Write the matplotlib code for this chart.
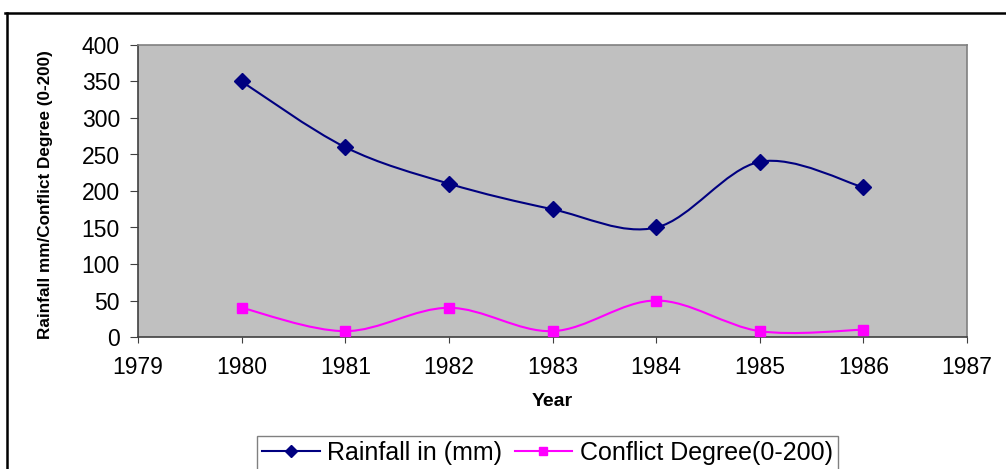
import numpy as np
import matplotlib
matplotlib.use("Agg")
import matplotlib.pyplot as plt
from matplotlib.path import Path
from matplotlib.patches import PathPatch
from matplotlib.lines import Line2D

# data
years = [1980, 1981, 1982, 1983, 1984, 1985, 1986]
rainfall = [350, 260, 210, 175, 150, 240, 205]
conflict = [40, 8, 40, 8, 50, 8, 10]
x_ticks = list(range(1979, 1988))
y_ticks = list(range(0, 401, 50))

plt.rcParams['font.family'] = ['Liberation Sans', 'DejaVu Sans']

W, H = 1006, 469


# smoothed line like excel (bezier through the points)
def smooth_path(x, y):
    pts = np.column_stack([x, y]).astype(float)
    n = len(pts)
    verts = [pts[0]]
    codes = [Path.MOVETO]
    for i in range(n - 1):
        p0 = pts[max(i - 1, 0)]
        p1 = pts[i]
        p2 = pts[i + 1]
        p3 = pts[min(i + 2, n - 1)]
        verts += [p1 + (p2 - p0) / 6, p2 - (p3 - p1) / 6, p2]
        codes += [Path.CURVE4] * 3
    return Path(verts, codes)


fig = plt.figure(figsize=(W / 100, H / 100), dpi=100)
ax = fig.add_axes([138 / W, 1 - 337 / H, (967 - 138) / W, (337 - 45) / H])
ax.set_facecolor('#C0C0C0')

navy = '#000080'
pink = '#FF00FF'

ax.add_patch(PathPatch(smooth_path(years, rainfall), fill=False, edgecolor=navy, lw=1.5, zorder=3))
ax.add_patch(PathPatch(smooth_path(years, conflict), fill=False, edgecolor=pink, lw=1.5, zorder=3))
ax.plot(years, rainfall, linestyle='none', marker='D', ms=8.5, color=navy, zorder=4)
ax.plot(years, conflict, linestyle='none', marker='s', ms=7.5, color=pink, zorder=4)

ax.set_xlim(1979, 1987)
ax.set_ylim(0, 400)
ax.set_xticks(x_ticks)
ax.set_yticks(y_ticks)
ax.tick_params(axis='both', labelsize=16.5, direction='out', color='#404040')
ax.tick_params(axis='x', length=4.5, pad=9)
ax.tick_params(axis='y', length=6, pad=7)

for s in ['left', 'bottom']:
    ax.spines[s].set_color('#404040')
    ax.spines[s].set_linewidth(1.2)
for s in ['top', 'right']:
    ax.spines[s].set_color('#808080')
    ax.spines[s].set_linewidth(1.2)

fig.text(552 / W, 1 - 401 / H, 'Year', fontsize=14, fontweight='bold', ha='center', va='center')
fig.text(46 / W, 1 - 195 / H, 'Rainfall mm/Conflict Degree (0-200)', fontsize=12.3, fontweight='bold',
         rotation=90, ha='center', va='center')

handles = [Line2D([], [], color=navy, lw=1.5, marker='D', ms=6.5),
           Line2D([], [], color=pink, lw=1.5, marker='s', ms=6)]
leg = fig.legend(handles, ['Rainfall in (mm)', 'Conflict Degree(0-200)'], loc='upper left',
                 bbox_to_anchor=(257 / W, 1 - 436 / H), ncol=2, fontsize=18, frameon=True,
                 fancybox=False, edgecolor='#606060', borderaxespad=0, borderpad=0.2,
                 handlelength=2.3, handletextpad=0.3, columnspacing=0.5, markerscale=1)
leg.get_frame().set_linewidth(1.0)

# outer chart border (cut off at right and bottom)
fig.add_artist(Line2D([5 / W, 1], [1 - 13 / H, 1 - 13 / H], color='black', lw=1.8))
fig.add_artist(Line2D([7 / W, 7 / W], [0, 1 - 13 / H], color='black', lw=1.8))

fig.savefig('out.png', dpi=100)
